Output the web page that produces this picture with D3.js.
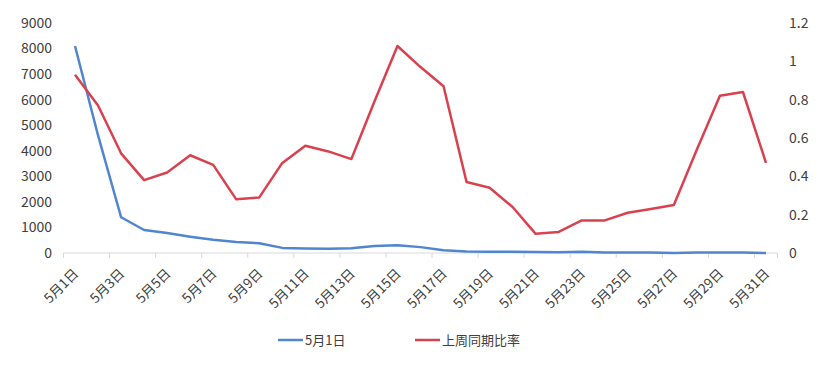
<!DOCTYPE html>
<html>
<head>
<meta charset="utf-8">
<script src="https://cdn.jsdelivr.net/npm/d3@7"></script>
<style>
  body { margin: 0; background: #fff; }
  svg { font-family: "Noto Sans CJK SC", "Noto Sans", sans-serif; }
</style>
</head>
<body>
<svg id="chart" width="823" height="366"></svg>
<script>
const days = d3.range(1, 32).map((d) => `5月${d}日`);

const countValues = [
  8100, 4600, 1400, 900, 780, 640, 520, 430, 380, 200, 180, 170, 190, 270, 300, 230,
  110, 60, 50, 50, 40, 30, 50, 20, 20, 20, 0, 20, 20, 20, 0,
];

const ratioValues = [
  0.93, 0.77, 0.52, 0.38, 0.42, 0.51, 0.46, 0.28, 0.29, 0.47, 0.56, 0.53, 0.49, 0.79, 1.08, 0.97,
  0.87, 0.37, 0.34, 0.24, 0.1, 0.11, 0.17, 0.17, 0.21, 0.23, 0.25, 0.54, 0.82, 0.84, 0.47,
];

const leftTicks = d3.range(0, 9001, 1000);
const rightTicks = [0, 0.2, 0.4, 0.6, 0.8, 1, 1.2];

const seriesNames = ["5月1日", "上周同期比率"];
const colors = ["#4f86cf", "#d9414f"];

const svg = d3.select("#chart");

const x = d3.scalePoint().domain(days).range([63.5, 777.5]).padding(0.5);
const yLeft = d3.scaleLinear().domain([0, 9000]).range([253, 23]);
const yRight = d3.scaleLinear().domain([0, 1.2]).range([253, 23]);

// baseline
svg.append("line")
  .attr("x1", 63.5).attr("x2", 777.5)
  .attr("y1", yLeft(0)).attr("y2", yLeft(0))
  .attr("stroke", "#d9d9d9").attr("stroke-width", 1);

// tick marks between categories, every two days
const step = x.step();
const tickPos = days.filter((d, i) => i % 2 === 0).map((d) => x(d) - step / 2);
tickPos.push(x(days[days.length - 1]) + step / 2);
svg.selectAll(".tk")
  .data(tickPos)
  .enter()
  .append("line")
  .attr("x1", (d) => d).attr("x2", (d) => d)
  .attr("y1", yLeft(0)).attr("y2", yLeft(0) + 5)
  .attr("stroke", "#d9d9d9");

// left axis labels
svg.selectAll(".ly")
  .data(leftTicks)
  .enter()
  .append("text")
  .attr("x", 52)
  .attr("y", (d) => yLeft(d))
  .attr("dy", "0.35em")
  .attr("text-anchor", "end")
  .attr("font-size", "14px")
  .attr("fill", "#404040")
  .text((d) => d);

// right axis labels
svg.selectAll(".ry")
  .data(rightTicks)
  .enter()
  .append("text")
  .attr("x", 789)
  .attr("y", (d) => yRight(d))
  .attr("dy", "0.35em")
  .attr("font-size", "14px")
  .attr("fill", "#404040")
  .text((d) => d);

// category labels
svg.selectAll(".xl")
  .data(days.filter((d, i) => i % 2 === 0))
  .enter()
  .append("text")
  .attr("transform", (d) => `translate(${x(d) + 1},${yLeft(0) + 18}) rotate(-45)`)
  .attr("text-anchor", "end")
  .attr("dy", "0.35em")
  .attr("font-size", "13.5px")
  .attr("fill", "#404040")
  .text((d) => d);

// lines
const countLine = d3.line()
  .x((d, i) => x(days[i]))
  .y((d) => yLeft(d));

const ratioLine = d3.line()
  .x((d, i) => x(days[i]))
  .y((d) => yRight(d));

svg.append("path")
  .datum(countValues)
  .attr("fill", "none")
  .attr("stroke", colors[0])
  .attr("stroke-width", 2.5)
  .attr("stroke-linejoin", "round")
  .attr("d", countLine);

svg.append("path")
  .datum(ratioValues)
  .attr("fill", "none")
  .attr("stroke", colors[1])
  .attr("stroke-width", 2.5)
  .attr("stroke-linejoin", "round")
  .attr("d", ratioLine);

// legend
const legendX = [278, 415];
const legend = svg.selectAll(".lg")
  .data(seriesNames)
  .enter()
  .append("g")
  .attr("transform", (d, i) => `translate(${legendX[i]},340)`);

legend.append("line")
  .attr("x1", 0).attr("x2", 25)
  .attr("stroke", (d, i) => colors[i])
  .attr("stroke-width", 2.5);

legend.append("text")
  .attr("x", 27)
  .attr("dy", "0.35em")
  .attr("font-size", "13px")
  .attr("fill", "#404040")
  .text((d) => d);
</script>
</body>
</html>
